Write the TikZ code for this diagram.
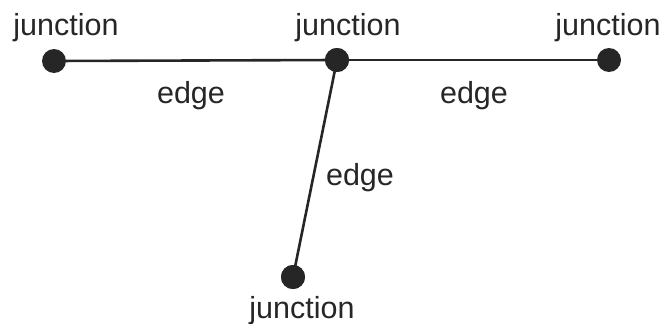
\documentclass[tikz,border=0pt]{standalone}
\usepackage{fontspec}
\setmainfont{Liberation Sans}
\begin{document}
\begin{tikzpicture}[x=1pt,y=-1pt,
  junc/.style={circle,fill=black!85,inner sep=0pt,minimum size=24pt},
  lbl/.style={anchor=base,inner sep=0pt,font=\fontsize{30.5}{36}\selectfont,text=black!85},
  conn/.style={line width=2.6pt,draw=black!85}]
\useasboundingbox (0,0) rectangle (662,324);
\node[junc] (j1) at (54,61) {};
\node[junc] (j2) at (337,60) {};
\node[junc] (j3) at (609,60) {};
\node[junc] (j4) at (293,277) {};
\draw[conn] (j1) -- (j2);
\draw[conn] (j2) -- (j3);
\draw[conn] (j2.center) -- (j4.center);
\node[junc] at (j2) {};
\node[junc] at (j4) {};
\node[lbl] (t1) at (66,35) {junction};
\node[lbl] (t2) at (348,35) {junction};
\node[lbl] (t3) at (608,35) {junction};
\node[lbl] (t4) at (302,318) {junction};
\node[lbl] (e1) at (191,103) {edge};
\node[lbl] (e2) at (474,103) {edge};
\node[lbl] (e3) at (360,185) {edge};
\end{tikzpicture}
\end{document}
